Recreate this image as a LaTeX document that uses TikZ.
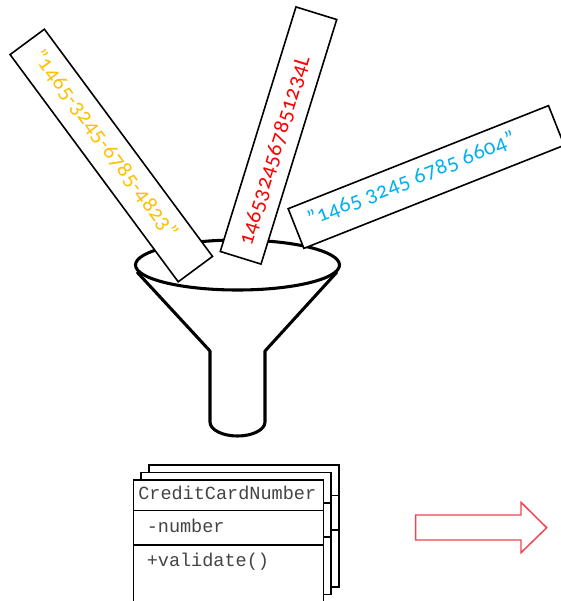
\documentclass[tikz,border=0pt]{standalone}
\usepackage{fontspec}
\setmainfont{Carlito}[Numbers=OldStyle,LetterSpace=2]
\setmonofont{Liberation Mono}
\usetikzlibrary{positioning}
\definecolor{cardyellow}{HTML}{FFC000}
\definecolor{cardred}{HTML}{FF0000}
\definecolor{cardblue}{HTML}{00B0F0}
\definecolor{arrowred}{HTML}{EE4350}
\definecolor{umltext}{HTML}{444444}
\tikzset{
  card/.style={draw=black,line width=1.2pt,fill=white,minimum height=32pt,inner sep=0pt},
  cardtext/.style={font=\fontsize{16.7}{18}\selectfont,inner sep=0pt},
  umltxt/.style={font=\fontsize{13.9}{16}\ttfamily,text=umltext,inner sep=0pt},
  sheet/.style={draw=black,line width=1.2pt,fill=white}
}
\begin{document}
\begin{tikzpicture}[x=0.75pt,y=-0.75pt]
  \useasboundingbox (0,0) rectangle (561,601);
  % funnel
  \draw[line width=2.3pt,line join=round] (137,272) -- (210,351) -- (210,422)
    arc[start angle=180,end angle=360,x radius=27.5,y radius=-14] -- (265,351) -- (337,272);
  \draw[line width=2.3pt] (237.5,265) ellipse[x radius=102,y radius=25];
  % cards
  \node[card,minimum width=212pt,rotate=-53.5] (yellowcard) at (111.3,155.5) {};
  \node[card,minimum width=192pt,rotate=72.8] (redcard) at (278.5,135.5) {};
  \node[card,minimum width=210pt,rotate=21.6] (bluecard) at (426.2,177) {};
  \node[cardtext,text=cardyellow,rotate=-53.5] (yellowtext) at (105,144) {"1465-3245-6785-4823"};
  \node[cardtext,text=cardred,rotate=72.8] (redtext) at (275,151) {1465324567851234L};
  \node[cardtext,text=cardblue,rotate=21.6] (bluetext) at (411.5,179) {"1465 3245 6785 6604"};
  % class stack
  \foreach \dx/\dy in {15.5/-15,7.7/-7.5,0/0} {
    \begin{scope}[shift={(\dx,\dy)}]
      \draw[sheet] (133.3,480) rectangle (323.3,602);
      \draw[line width=1.2pt] (133.3,510.3) -- (323.3,510.3);
      \draw[line width=1.2pt] (133.3,544.7) -- (323.3,544.7);
    \end{scope}
  }
  \node[umltxt,anchor=base west] (classname) at (138,499.5) {CreditCardNumber};
  \node[umltxt,anchor=base west] (attrname) at (146.5,532) {-number};
  \node[umltxt,anchor=base west] (methodname) at (146.5,566) {+validate()};
  % arrow
  \draw[arrowred,line width=1.1pt,line join=miter] (415.7,515) -- (521,515) -- (521,502.3) -- (546.7,527.7)
    -- (521,552.7) -- (521,540) -- (415.7,540) -- cycle;
\end{tikzpicture}
\end{document}
